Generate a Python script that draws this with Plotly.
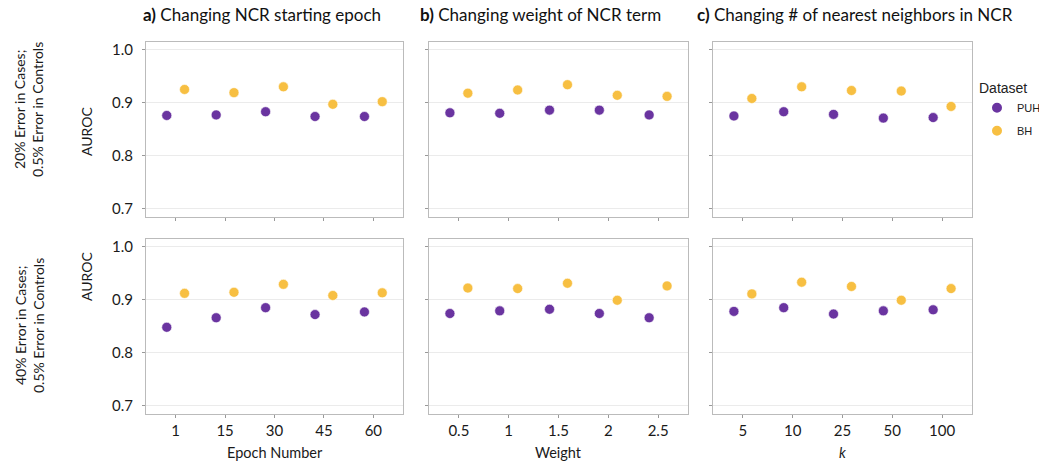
import plotly.graph_objects as go

# ---- data ----
epoch_labels = ["1", "15", "30", "45", "60"]
weight_labels = ["0.5", "1", "1.5", "2", "2.5"]
k_labels = ["5", "10", "25", "50", "100"]

# row 1: 20% error in cases; 0.5% error in controls
r1_epoch_puh = [0.876, 0.877, 0.883, 0.874, 0.874]
r1_epoch_bh = [0.925, 0.919, 0.930, 0.897, 0.902]
r1_weight_puh = [0.881, 0.880, 0.886, 0.886, 0.877]
r1_weight_bh = [0.918, 0.924, 0.934, 0.914, 0.912]
r1_k_puh = [0.875, 0.883, 0.878, 0.871, 0.872]
r1_k_bh = [0.908, 0.930, 0.923, 0.922, 0.893]

# row 2: 40% error in cases; 0.5% error in controls
r2_epoch_puh = [0.848, 0.866, 0.885, 0.872, 0.877]
r2_epoch_bh = [0.912, 0.914, 0.929, 0.908, 0.913]
r2_weight_puh = [0.874, 0.879, 0.882, 0.874, 0.866]
r2_weight_bh = [0.922, 0.921, 0.931, 0.899, 0.926]
r2_k_puh = [0.878, 0.885, 0.873, 0.879, 0.881]
r2_k_bh = [0.911, 0.933, 0.925, 0.899, 0.921]

series_names = ["PUH", "BH"]
colors = {"PUH": "#6A34A0", "BH": "#F7BF42"}
dodge = {"PUH": -0.18, "BH": 0.18}

col_titles = ["<b>a)</b> Changing NCR starting epoch",
              "<b>b)</b> Changing weight of NCR term",
              "<b>c)</b> Changing # of nearest neighbors in NCR"]
x_titles = ["Epoch Number", "Weight", "<i>k</i>"]
y_title = "AUROC"
row_labels = ["20% Error in Cases;<br>0.5% Error in Controls",
              "40% Error in Cases;<br>0.5% Error in Controls"]
y_ticks = [0.7, 0.8, 0.9, 1.0]

W, H = 1039, 461
col_px = [(146, 403), (429, 688), (713, 972)]
row_px = [(42, 217), (239, 414)]
row_label_y = [110, 326]
y_title_y = [132, 277]

panels = [
    [(epoch_labels, r1_epoch_puh, r1_epoch_bh),
     (weight_labels, r1_weight_puh, r1_weight_bh),
     (k_labels, r1_k_puh, r1_k_bh)],
    [(epoch_labels, r2_epoch_puh, r2_epoch_bh),
     (weight_labels, r2_weight_puh, r2_weight_bh),
     (k_labels, r2_k_puh, r2_k_bh)],
]

FONT = "Lato, Open Sans, sans-serif"
fig = go.Figure()
layout_axes = {}
tick_font = dict(family=FONT, size=15, color="#1a1a1a")
n = 0
for r in range(2):
    for c in range(3):
        n += 1
        xa = "x" if n == 1 else f"x{n}"
        ya = "y" if n == 1 else f"y{n}"
        labels, puh, bh = panels[r][c]
        for name, vals in zip(series_names, [puh, bh]):
            fig.add_trace(go.Scatter(
                x=[i + dodge[name] for i in range(len(labels))],
                y=vals, mode="markers", name=name,
                legendgroup=name, showlegend=(n == 1),
                marker=dict(size=10, color=colors[name],
                            line=dict(color="white", width=0.6)),
                xaxis=xa, yaxis=ya))
        x0, x1 = col_px[c]
        y0, y1 = row_px[r]
        layout_axes["xaxis" if n == 1 else f"xaxis{n}"] = dict(
            domain=[x0 / W, x1 / W], anchor=ya, automargin=False,
            range=[-0.6, 4.6], tickmode="array",
            tickvals=list(range(len(labels))),
            ticktext=labels if r == 1 else [""] * len(labels),
            showgrid=False, zeroline=False,
            ticks="outside", ticklen=3, tickcolor="#999999",
            showline=True, linecolor="#BBBBBB", mirror=True, linewidth=1,
            tickfont=tick_font,
        )
        layout_axes["yaxis" if n == 1 else f"yaxis{n}"] = dict(
            domain=[1 - y1 / H, 1 - y0 / H], anchor=xa, automargin=False,
            range=[0.6845, 1.0145], tickmode="array",
            tickvals=y_ticks,
            ticktext=[f"{v:.1f}" for v in y_ticks] if c == 0 else [""] * 4,
            showgrid=True, gridcolor="#EBEBEB", gridwidth=1, zeroline=False,
            ticks="outside", ticklen=3, tickcolor="#999999",
            ticklabelstandoff=6 if c == 0 else 0,
            showline=True, linecolor="#BBBBBB", mirror=True, linewidth=1,
            tickfont=tick_font,
        )

annotations = []
title_x = [141, 418, 695]
for c in range(3):
    annotations.append(dict(
        text=col_titles[c], x=title_x[c] / W, y=1 - 15 / H,
        xref="paper", yref="paper", xanchor="left", yanchor="middle",
        showarrow=False,
        font=dict(family=FONT, size=17, color="#111111")))
    xc = (col_px[c][0] + col_px[c][1]) / 2
    annotations.append(dict(
        text=x_titles[c], x=xc / W, y=1 - 452 / H,
        xref="paper", yref="paper", xanchor="center", yanchor="middle",
        showarrow=False,
        font=dict(family=FONT, size=14.5, color="#1a1a1a")))
for r in range(2):
    annotations.append(dict(
        text=row_labels[r], x=29 / W, y=1 - row_label_y[r] / H,
        xref="paper", yref="paper", xanchor="center", yanchor="middle",
        textangle=-90, showarrow=False, align="center",
        font=dict(family=FONT, size=14, color="#1a1a1a")))
    annotations.append(dict(
        text=y_title, x=86 / W, y=1 - y_title_y[r] / H,
        xref="paper", yref="paper", xanchor="center", yanchor="middle",
        textangle=-90, showarrow=False,
        font=dict(family=FONT, size=14, color="#1a1a1a")))

fig.update_layout(
    width=W, height=H,
    margin=dict(l=0, r=0, t=0, b=0, autoexpand=False),
    plot_bgcolor="white", paper_bgcolor="white",
    annotations=annotations,
    legend=dict(
        title=dict(text="Dataset", font=dict(family="Liberation Sans, Arial, sans-serif", size=14, color="#222222")),
        x=977 / W, y=1 - 75 / H, xanchor="left", yanchor="top",
        font=dict(family="Liberation Sans, Arial, sans-serif", size=11, color="#222222"),
        itemsizing="constant", itemwidth=30, tracegroupgap=4,
        bgcolor="rgba(0,0,0,0)"),
    **layout_axes,
)

fig.write_html(
    "out.html",
    config={"displayModeBar": False},
    post_script="document.body.style.margin='0';document.body.style.overflow='hidden';",
)
